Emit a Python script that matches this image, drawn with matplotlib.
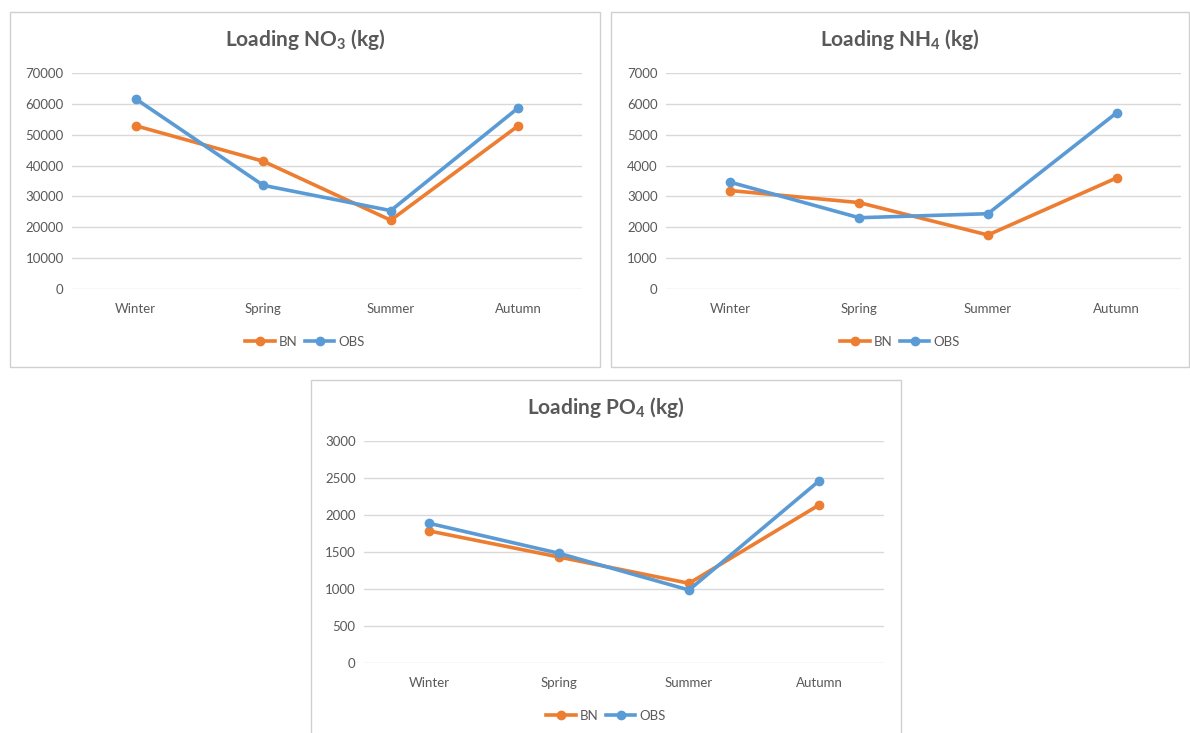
import matplotlib
matplotlib.use("Agg")
import matplotlib.pyplot as plt
from matplotlib.patches import Rectangle

plt.rcParams['font.family'] = ['Lato', 'DejaVu Sans']
plt.rcParams['mathtext.default'] = 'regular'

seasons = ["Winter", "Spring", "Summer", "Autumn"]

no3_bn = [52900, 41400, 22300, 52900]
no3_obs = [61600, 33600, 25400, 58700]

nh4_bn = [3190, 2800, 1750, 3600]
nh4_obs = [3460, 2310, 2440, 5710]

po4_bn = [1785, 1432, 1077, 2135]
po4_obs = [1888, 1482, 986, 2460]

BN_COLOR = "#ED7D31"
OBS_COLOR = "#5B9BD5"
TEXT = "#595959"
GRID = "#D9D9D9"

W, H = 1190, 733
fig = plt.figure(figsize=(W / 100, H / 100), dpi=100)


def box(x0, y0, x1, y1):
    # pixel box -> figure coords
    return [x0 / W, 1 - y1 / H, (x1 - x0) / W, (y1 - y0) / H]


def panel(frame, plot, title, bn, obs, ymax, step, title_y, legend_y):
    fx0, fy0, fx1, fy1 = frame
    fig.patches.append(Rectangle((fx0 / W, 1 - fy1 / H), (fx1 - fx0) / W, (fy1 - fy0) / H,
                                 transform=fig.transFigure, fill=False,
                                 edgecolor="#D0D0D0", linewidth=1.0))
    ax = fig.add_axes(box(*plot))
    x = range(len(seasons))
    ax.plot(x, bn, color=BN_COLOR, lw=2.6, marker="o", ms=6, label="BN")
    ax.plot(x, obs, color=OBS_COLOR, lw=2.6, marker="o", ms=6, label="OBS")
    ax.set_xlim(-0.5, len(seasons) - 0.5)
    ax.set_ylim(0, ymax)
    ax.set_yticks(range(0, ymax + 1, step))
    ax.set_xticks(list(x))
    ax.set_xticklabels(seasons)
    ax.grid(axis="y", color=GRID, lw=1)
    ax.set_axisbelow(True)
    for s in ax.spines.values():
        s.set_visible(False)
    ax.tick_params(length=0, colors=TEXT, labelsize=9.5)
    ax.tick_params(axis="x", pad=10)
    ax.tick_params(axis="y", pad=6)
    cx = (fx0 + fx1) / 2 / W
    fig.text(cx, 1 - title_y / H, title, ha="center", va="center",
             fontsize=15, color=TEXT, fontweight="bold")
    fig.legend(*ax.get_legend_handles_labels(), loc="center",
               bbox_to_anchor=(cx, 1 - legend_y / H), ncol=2, frameon=False,
               fontsize=9.5, labelcolor=TEXT, handlelength=2.2,
               handletextpad=0.3, columnspacing=0.6)
    return ax


panel((10, 12, 600, 367), (72, 73, 582, 289), r"Loading NO$_3$ (kg)",
      no3_bn, no3_obs, 70000, 10000, 40, 342)
panel((611, 12, 1189, 367), (666, 73, 1181, 289), r"Loading NH$_4$ (kg)",
      nh4_bn, nh4_obs, 7000, 1000, 40, 342)
panel((311, 380, 901, 740), (364, 441, 884, 663), r"Loading PO$_4$ (kg)",
      po4_bn, po4_obs, 3000, 500, 408, 716)

fig.savefig("out.png", dpi=100)
